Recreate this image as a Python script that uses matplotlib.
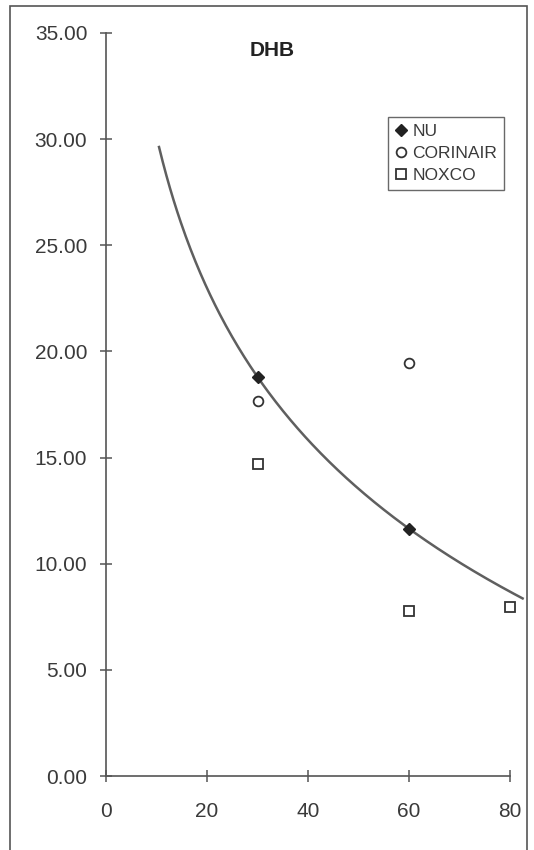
import numpy as np
import matplotlib
matplotlib.use("Agg")
import matplotlib.pyplot as plt
from matplotlib.patches import Rectangle

plt.rcParams['font.family'] = ['Liberation Sans', 'DejaVu Sans']

# Data
nu_x = [30, 60]
nu_y = [18.8, 11.65]
cor_x = [30, 60]
cor_y = [17.65, 19.47]
nox_x = [30, 60, 80]
nox_y = [14.7, 7.77, 7.95]
trend_range = [10.5, 82.5]
xticks = [0, 20, 40, 60, 80]
yticks = [0, 5, 10, 15, 20, 25, 30, 35]
title = "DHB"

TXT = "#3a3a3a"
AX = "#555555"

fig = plt.figure(figsize=(5.34, 8.5), dpi=100)
W, H = 534, 850
ax = fig.add_axes([106 / W, 1 - 776 / H, 404 / W, 743 / H])

# logarithmic trendline fitted to NU data
b, a = np.polyfit(np.log(nu_x), nu_y, 1)
xs = np.linspace(trend_range[0], trend_range[1], 300)
ax.plot(xs, a + b * np.log(xs), color="#5f5f5f", lw=1.8, clip_on=False, zorder=2)

ax.plot(nu_x, nu_y, ls="none", marker="D", ms=6, mfc="#222222", mec="#222222",
        label="NU", zorder=3, clip_on=False)
ax.plot(cor_x, cor_y, ls="none", marker="o", ms=7, mfc="white", mec="#333333",
        mew=1.3, label="CORINAIR", zorder=3, clip_on=False)
ax.plot(nox_x, nox_y, ls="none", marker="s", ms=7, mfc="white", mec="#333333",
        mew=1.3, label="NOXCO", zorder=3, clip_on=False)

ax.set_xlim(0, 80)
ax.set_ylim(0, 35)
ax.set_xticks(xticks)
ax.set_yticks(yticks)
ax.set_yticklabels([f"{v:.2f}" for v in yticks])
for s in ["top", "right"]:
    ax.spines[s].set_visible(False)
for s in ["left", "bottom"]:
    ax.spines[s].set_color(AX)
    ax.spines[s].set_linewidth(1.2)
ax.tick_params(axis="both", direction="inout", length=9, width=1.1, color=AX,
               labelcolor=TXT, labelsize=15)
ax.tick_params(axis="x", pad=14)
ax.tick_params(axis="y", pad=9)
ax.patch.set_alpha(0)

fig.text(272 / W, 1 - 51 / H, title, ha="center", va="center",
         fontsize=15, fontweight="bold", color="#222222")

leg = ax.legend(loc="upper left", bbox_to_anchor=(388 / W, 1 - 117 / H),
                bbox_transform=fig.transFigure, frameon=True, fancybox=False,
                fontsize=12.5, handlelength=0.7, handletextpad=0.3,
                borderpad=0.4, labelspacing=0.4, borderaxespad=0)
leg.get_frame().set_edgecolor("#444444")
leg.get_frame().set_linewidth(1.0)
for t in leg.get_texts():
    t.set_color(TXT)

# outer border
fig.patches.append(Rectangle((10 / W, -0.01), 517 / W, 1.01 - 6 / H,
                             transform=fig.transFigure, fill=False,
                             edgecolor="#555555", lw=1.2))

fig.savefig("out.png", dpi=100)
